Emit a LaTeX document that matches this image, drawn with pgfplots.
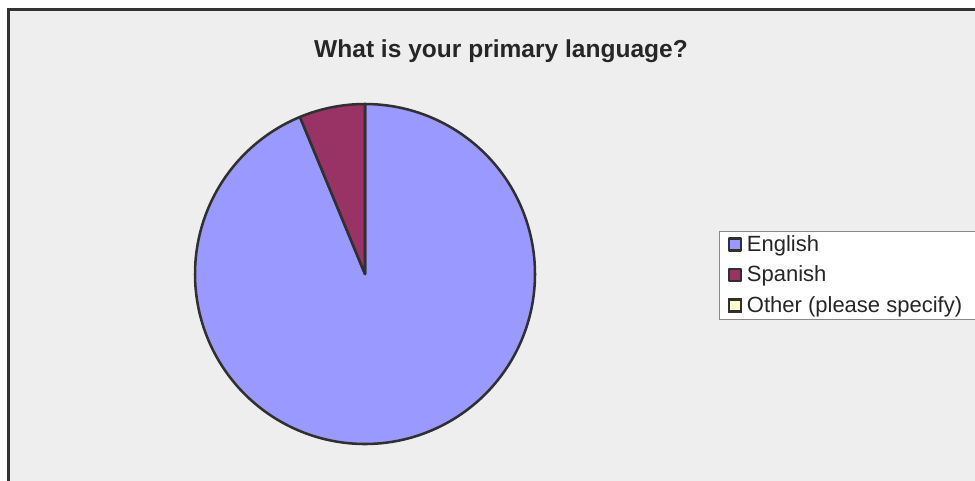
\documentclass[border=0pt]{standalone}
\usepackage{pgfplots}
\usepackage{pgfplotstable}
\pgfplotsset{compat=1.18}
\usepackage{fontspec}
\setmainfont{Liberation Sans}

\definecolor{bgc}{HTML}{EEEEEE}
\definecolor{framec}{HTML}{333333}
\definecolor{edgec}{HTML}{303030}
\definecolor{englishc}{HTML}{9999FF}
\definecolor{spanishc}{HTML}{993366}
\definecolor{otherc}{HTML}{FFFFCC}
\definecolor{legframe}{HTML}{888888}

% survey answers, percent of respondents
\pgfplotstableread{
label value
English 93.75
Spanish 6.25
Other 0
}\piedata

\pgfplotstablegetelem{0}{value}\of\piedata \let\vEng\pgfplotsretval
\pgfplotstablegetelem{1}{value}\of\piedata \let\vSpa\pgfplotsretval
% slices run clockwise from twelve o'clock
\pgfmathsetmacro\aEnd{90-3.6*\vEng}
\pgfmathsetmacro\bEnd{\aEnd-3.6*\vSpa}

\newcommand{\legtext}[1]{\makebox[178pt][l]{#1}}

\begin{document}
\begin{tikzpicture}
\begin{scope}[x=0.75pt,y=-0.75pt]
  \clip (0,0) rectangle (975,480);
  \fill[white] (0,0) rectangle (975,480);
  \fill[bgc] (8.5,9.5) rectangle (1100,600);
  \draw[framec, line width=2.2pt] (8.5,9.5) rectangle (1100,600);
  \node[anchor=base, font=\fontsize{18.4pt}{22pt}\selectfont\bfseries, text=black!85, inner sep=0pt]
    at (501,57) {What is your primary language?};
\end{scope}
\begin{axis}[
  at={(273.75pt,-205.5pt)}, anchor=origin,
  x=127.5pt, y=127.5pt,
  xmin=-1.2, xmax=1.2, ymin=-1.2, ymax=1.2,
  hide axis, clip=false,
  legend style={
    at={(axis cs:2.082,-0.2706)}, anchor=south west,
    draw=legframe, line width=0.6pt, fill=white,
    font=\fontsize{16.5pt}{20pt}\selectfont, text=black!85,
    inner xsep=6.2pt, inner ysep=2pt,
    row sep=6.9pt,
    nodes={inner sep=0pt, text height=12.5pt, text depth=3.5pt},
  },
  legend cell align=left,
  /tikz/every odd column/.append style={column sep=3.6pt},
  legend image code/.code={
    \draw[#1, draw=edgec, line width=1.8pt] (0.9pt,-4pt) rectangle (10pt,5.1pt);
  },
]
\addplot[fill=englishc, draw=edgec, line width=1.9pt, line join=round,
  domain=\aEnd:90, samples=240, variable=\t]
  ({cos(\t)},{sin(\t)}) -- (axis cs:0,0) -- cycle;
\addlegendentry{\legtext{English}}
\addplot[fill=spanishc, draw=edgec, line width=1.9pt, line join=round,
  domain=\bEnd:\aEnd, samples=40, variable=\t]
  ({cos(\t)},{sin(\t)}) -- (axis cs:0,0) -- cycle;
\addlegendentry{\legtext{Spanish}}
\addlegendimage{fill=otherc, draw=edgec, line width=1.9pt}
\addlegendentry{\legtext{Other (please specify)}}
\end{axis}
\pgfresetboundingbox
\path[use as bounding box] (0,0) rectangle (731.25pt,-360pt);
\end{tikzpicture}
\end{document}
